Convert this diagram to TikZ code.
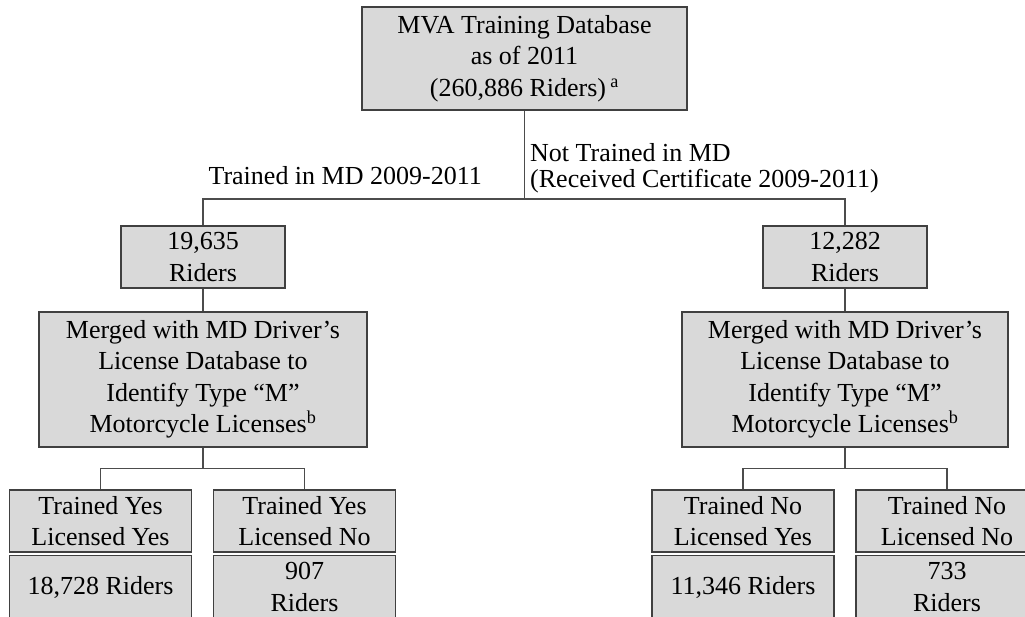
\documentclass[tikz,border=0pt]{standalone}
\usepackage{fontspec}
\setmainfont{Liberation Serif}
\usetikzlibrary{positioning}

\begin{document}
\begin{tikzpicture}[x=1pt, y=-1pt,
	caixa/.style={draw=black!75, fill=black!15, line width=1.2pt, align=center, inner sep=0pt, font=\fontsize{26}{31.5}\selectfont},
	folha/.style={caixa, minimum width=182pt, minimum height=62pt},
	numero/.style={caixa, minimum width=182pt, minimum height=64pt},
	liga/.style={draw=black!70, line width=1.2pt},
	rotulo/.style={inner sep=0pt, font=\fontsize{26}{26}\selectfont}]
	\useasboundingbox (0,0) rectangle (1025,617);
	\clip (0,0) rectangle (1025,617);

	% base de dados
	\node [caixa, minimum width=325pt, minimum height=103pt] (base) at (524.5,58.5) {MVA Training Database\\as of 2011\\(260,886 Riders)\,\textsuperscript{a}};

	% treinados / nao treinados
	\node [caixa, minimum width=164pt, minimum height=62pt] (treinados) at (203,257) {19,635\\Riders};
	\node [caixa, minimum width=164pt, minimum height=62pt] (naotreinados) at (845,257) {12,282\\Riders};
	\coordinate (ramo) at (524.5,199);
	\draw [liga] (base) -- (ramo);
	\draw [liga] (treinados) |- (ramo) -| (naotreinados);
	\node [rotulo, anchor=base east] (lblsim) at (482,185) {Trained in MD 2009-2011};
	\node [rotulo, anchor=north west, align=left] (lblnao) at (530,143) {Not Trained in MD\\(Received Certificate 2009-2011)};

	% cruzamento com a base de cartas
	\node [caixa, minimum width=328pt, minimum height=135pt] (cruzA) at (203,379.5) {Merged with MD Driver's\\License Database to\\Identify Type ``M''\\Motorcycle Licenses\textsuperscript{b}};
	\node [caixa, minimum width=326pt, minimum height=135pt] (cruzB) at (845,379.5) {Merged with MD Driver's\\License Database to\\Identify Type ``M''\\Motorcycle Licenses\textsuperscript{b}};
	\draw [liga] (treinados) -- (cruzA);
	\draw [liga] (naotreinados) -- (cruzB);

	% folhas do lado treinado
	\node [folha] (simsim) at (100.5,521) {Trained Yes\\Licensed Yes};
	\node [numero, below=2pt of simsim] (simsimN) {18,728 Riders};
	\node [folha] (simnao) at (304.5,521) {Trained Yes\\Licensed No};
	\node [numero, below=2pt of simnao] (simnaoN) {907\\Riders};
	\coordinate [below=21pt of cruzA.south] (ramoA);
	\draw [liga] (cruzA) -- (ramoA);
	\draw [liga] (simsim) |- (ramoA) -| (simnao);

	% folhas do lado nao treinado
	\node [folha] (naosim) at (743,521) {Trained No\\Licensed Yes};
	\node [numero, below=2pt of naosim] (naosimN) {11,346 Riders};
	\node [folha] (naonao) at (947,521) {Trained No\\Licensed No};
	\node [numero, below=2pt of naonao] (naonaoN) {733\\Riders};
	\coordinate [below=21pt of cruzB.south] (ramoB);
	\draw [liga] (cruzB) -- (ramoB);
	\draw [liga] (naosim) |- (ramoB) -| (naonao);

\end{tikzpicture}
\end{document}
